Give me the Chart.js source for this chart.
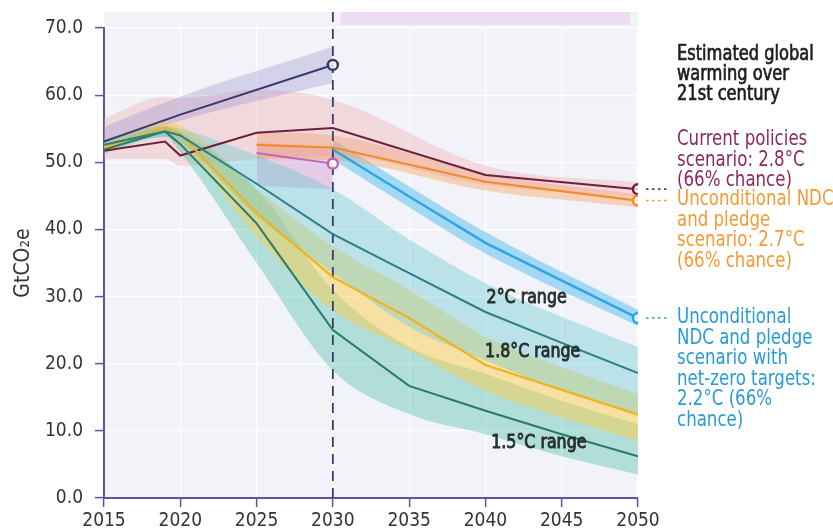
<!DOCTYPE html>
<html>
<head>
<meta charset="utf-8">
<script src="https://cdn.jsdelivr.net/npm/chart.js@4.4.0/dist/chart.umd.min.js"></script>
<style>
  html, body { margin: 0; padding: 0; background: #ffffff; }
  #wrap { width: 833px; height: 532px; position: relative; }
</style>
</head>
<body>
<div id="wrap"><canvas id="c" width="833" height="532"></canvas></div>
<script>
const FONT = '"DejaVu Sans Condensed", "Liberation Sans Narrow", "Roboto", sans-serif';

// ---- axis ----
const yearTicks = [2015, 2020, 2025, 2030, 2035, 2040, 2045, 2050];
const valueTicks = [0, 10, 20, 30, 40, 50, 60, 70];
const frameTop = 72.4;            // shaded frame runs a little above the 70 line

// ---- 2010 policies path (to 2030) ----
const policies2010Years = [2015, 2020, 2030];
const policies2010      = [53.1, 57.1, 64.5];
const policies2010High  = [55.3, 59.8, 67.2];
const policies2010Low   = [52.3, 56.2, 61.8];

// ---- current policies ----
const currentYears = [2015, 2019, 2020, 2025, 2030, 2040, 2050];
const currentPolicies = [51.7, 53.1, 51.0, 54.4, 55.1, 48.1, 46.0];
const currentHigh     = [56.5, 59.8, 59.5, 60.8, 59.3, 49.5, 47.0];
const currentLow      = [50.5, 50.5, 49.5, 50.5, 51.0, 46.6, 44.8];

// ---- unconditional NDC and pledges ----
const ndcYears = [2025, 2030, 2040, 2050];
const unconditionalNdc = [52.6, 52.2, 47.1, 44.3];
const ndcHigh          = [54.5, 54.0, 48.3, 45.2];
const ndcLow           = [50.5, 50.3, 45.8, 43.3];

// ---- conditional NDC (to 2030) ----
const conditionalYears = [2025, 2030];
const conditionalNdc   = [51.4, 49.8];
const conditionalHigh  = [53.0, 52.0];
const conditionalLow   = [46.5, 46.0];

// ---- unconditional NDC with net-zero targets ----
const netZeroYears = [2030, 2035, 2040, 2050];
const netZero      = [51.9, 44.9, 38.0, 26.8];
const netZeroHigh  = [53.4, 46.4, 39.6, 28.0];
const netZeroLow   = [50.4, 43.3, 36.4, 25.6];

// ---- temperature pathways ----
const pathYears   = [2015, 2019, 2020, 2025, 2030, 2035, 2040, 2045, 2050];
const path2C      = [52.6, 54.6, 54.0, 46.8, 39.3, 33.5, 27.7, 23.1, 18.6];
const path2CHigh  = [53.4, 55.4, 55.0, 51.0, 46.0, 38.5, 32.0, 27.0, 22.5];
const path2CLow   = [51.8, 53.8, 53.0, 42.0, 33.5, 25.5, 20.5, 16.0, 12.5];
const path18C     = [52.2, 55.2, 54.2, 42.5, 32.9, 26.8, 19.8, 16.1, 12.4];
const path18CHigh = [53.0, 56.0, 55.5, 46.0, 37.5, 31.0, 24.0, 19.5, 15.5];
const path18CLow  = [51.5, 54.3, 53.0, 39.0, 28.0, 22.0, 16.0, 12.0, 8.5];
const path15C     = [51.9, 54.6, 52.7, 40.9, 25.0, 16.7, 13.0, 9.5, 6.2];
const path15CHigh = [52.5, 55.2, 54.5, 46.0, 31.0, 22.5, 18.5, 14.5, 11.0];
const path15CLow  = [51.3, 53.8, 51.5, 35.0, 19.0, 12.5, 9.5, 6.2, 3.5];

// ---- labels ----
const rangeLabels = [
  { text: '2°C range',   year: 2042.7, value: 29.8 },
  { text: '1.8°C range', year: 2043.1, value: 21.8 },
  { text: '1.5°C range', year: 2043.5, value: 8.2 }
];
const headingLines = ['Estimated global', 'warming over', '21st century'];
const scenarioNotes = [
  { lines: ['Current policies', 'scenario: 2.8°C', '(66% chance)'], color: '#8a2a5a', top: 140, endValue: 46.0 },
  { lines: ['Unconditional NDC', 'and pledge', 'scenario: 2.7°C', '(66% chance)'], color: '#f29a35', top: 200, endValue: 44.3 },
  { lines: ['Unconditional', 'NDC and pledge', 'scenario with', 'net-zero targets:', '2.2°C (66%', 'chance)'], color: '#2a9ad6', top: 318, endValue: 26.8 }
];

const pts = (xs, ys) => xs.map((x, i) => ({ x: x, y: ys[i] }));

function band(xs, hi, lo, color) {
  return [
    { data: pts(xs, hi), fill: '+1', backgroundColor: color, borderWidth: 0, pointRadius: 0,
      cubicInterpolationMode: 'monotone', order: 10 },
    { data: pts(xs, lo), fill: false, borderWidth: 0, pointRadius: 0,
      cubicInterpolationMode: 'monotone', order: 10 }
  ];
}

function line(xs, ys, color, width, endMarker) {
  const n = xs.length;
  return {
    data: pts(xs, ys), fill: false, borderColor: color, borderWidth: width,
    tension: 0, order: 0,
    pointRadius: xs.map((_, i) => (endMarker && i === n - 1) ? 5 : 0),
    pointBorderWidth: 2.5, pointBorderColor: color,
    pointBackgroundColor: 'rgba(255,255,255,0.8)'
  };
}

const datasets = [
  ...band(pathYears, path2CHigh, path2CLow, 'rgba(100,200,208,0.38)'),
  ...band(pathYears, path18CHigh, path18CLow, 'rgba(250,205,70,0.48)'),
  ...band(pathYears, path15CHigh, path15CLow, 'rgba(70,190,165,0.38)'),
  ...band(policies2010Years, policies2010High, policies2010Low, 'rgba(150,140,205,0.32)'),
  ...band(currentYears, currentHigh, currentLow, 'rgba(236,160,165,0.33)'),
  ...band(ndcYears, ndcHigh, ndcLow, 'rgba(247,165,95,0.42)'),
  ...band(conditionalYears, conditionalHigh, conditionalLow, 'rgba(205,140,200,0.38)'),
  ...band(netZeroYears, netZeroHigh, netZeroLow, 'rgba(65,185,235,0.45)'),
  // faint strip along the top of the frame
  { data: [{ x: 2030.5, y: 71.4 }, { x: 2049.5, y: 71.4 }], borderColor: 'rgba(236,214,236,0.75)',
    borderWidth: 13, borderCapStyle: 'butt', pointRadius: 0, fill: false, clip: false, order: 9 },
  // 2030 reference line
  { data: [{ x: 2030, y: 0 }, { x: 2030, y: frameTop }], borderColor: '#3d3b6e', borderWidth: 1.8,
    borderDash: [10, 7], pointRadius: 0, fill: false, clip: false, order: 5 },
  line(pathYears, path2C, '#2b7f82', 2, false),
  line(pathYears, path18C, '#f0b320', 2.2, false),
  line(pathYears, path15C, '#257a6a', 2, false),
  line(netZeroYears, netZero, '#2ba6e3', 2.4, true),
  line(conditionalYears, conditionalNdc, '#c064b4', 2, true),
  line(ndcYears, unconditionalNdc, '#f08a2a', 2.2, true),
  line(currentYears, currentPolicies, '#6e1f3e', 2, true),
  line(policies2010Years, policies2010, '#3a3868', 2, true)
];

const framePlugin = {
  id: 'frame',
  beforeDraw(chart) {
    const { ctx, chartArea: a, scales: { y } } = chart;
    const top = y.getPixelForValue(frameTop);
    ctx.save();
    ctx.fillStyle = '#f2f3f9';
    ctx.fillRect(a.left, top, a.right - a.left, a.bottom - top);
    ctx.restore();
  }
};

// text set in a horizontally condensed face, optionally thickened with a thin outline
function fillNarrow(ctx, text, x, y, sx, weight) {
  ctx.save();
  ctx.translate(x, y);
  ctx.scale(sx, 1);
  ctx.fillText(text, 0, 0);
  if (weight) {
    ctx.lineWidth = weight;
    ctx.strokeStyle = ctx.fillStyle;
    ctx.strokeText(text, 0, 0);
  }
  ctx.restore();
}

const notesPlugin = {
  id: 'notes',
  afterDraw(chart) {
    const { ctx, chartArea: a, scales: { x, y } } = chart;
    const textX = a.right + 39;
    ctx.save();
    ctx.textBaseline = 'middle';
    ctx.textAlign = 'left';
    // heading
    ctx.font = '21px ' + FONT;
    ctx.fillStyle = '#1e1e1e';
    headingLines.forEach((t, i) => fillNarrow(ctx, t, textX, 55 + i * 20, 0.86, 0.7));
    // scenario notes with dotted leaders from the 2050 markers
    ctx.font = '21px ' + FONT;
    scenarioNotes.forEach(note => {
      ctx.fillStyle = note.color;
      note.lines.forEach((t, i) => fillNarrow(ctx, t, textX, note.top + i * 20.5, 0.88, 0));
      const py = y.getPixelForValue(note.endValue);
      ctx.strokeStyle = note.color;
      ctx.lineWidth = 1.6;
      ctx.setLineDash([2.5, 3.5]);
      ctx.beginPath();
      ctx.moveTo(x.getPixelForValue(2050) + 8, py);
      ctx.lineTo(textX - 8, py);
      ctx.stroke();
    });
    ctx.setLineDash([]);
    // pathway range labels
    ctx.textAlign = 'center';
    ctx.font = '20px ' + FONT;
    ctx.fillStyle = '#26302c';
    rangeLabels.forEach(l => fillNarrow(ctx, l.text, x.getPixelForValue(l.year), y.getPixelForValue(l.value), 0.88, 0.9));
    ctx.restore();
  }
};

const AXIS = '#5b54a0';

new Chart(document.getElementById('c'), {
  type: 'line',
  data: { datasets },
  options: {
    responsive: false,
    animation: false,
    events: [],
    layout: { padding: { left: 0, right: 195, top: 28, bottom: 0 } },
    plugins: { legend: { display: false }, tooltip: { enabled: false } },
    scales: {
      x: {
        type: 'linear', min: yearTicks[0], max: yearTicks[yearTicks.length - 1],
        afterBuildTicks: s => { s.ticks = yearTicks.map(v => ({ value: v })); },
        afterFit: s => { s.height = 34; },
        grid: { color: 'rgba(255,255,255,0.95)', lineWidth: 1.2, tickColor: AXIS, tickLength: 9, tickWidth: 1.5 },
        border: { color: AXIS, width: 2 },
        ticks: { color: '#333333', padding: 3, maxRotation: 0, font: { family: FONT, size: 19 },
                 callback: v => String(v) }
      },
      y: {
        min: valueTicks[0], max: valueTicks[valueTicks.length - 1],
        afterBuildTicks: s => { s.ticks = valueTicks.map(v => ({ value: v })); },
        afterFit: s => { s.width = 104; },
        grid: { color: 'rgba(255,255,255,0.95)', lineWidth: 1.2, tickColor: AXIS, tickLength: 9, tickWidth: 1.5 },
        border: { color: AXIS, width: 2 },
        ticks: { color: '#333333', padding: 12, font: { family: FONT, size: 19 },
                 callback: v => Number(v).toFixed(1) },
        title: { display: true, text: 'GtCO₂e', color: '#333333', padding: { top: 11, bottom: 0 },
                 font: { family: FONT, size: 21 } }
      }
    }
  },
  plugins: [framePlugin, notesPlugin]
});
</script>
</body>
</html>
